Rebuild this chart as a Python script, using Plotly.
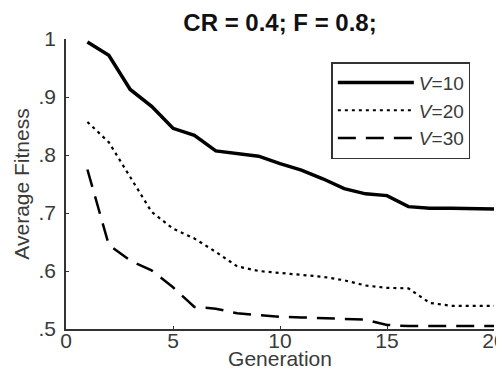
import plotly.graph_objects as go

generations = list(range(1, 21))
v10 = [0.995, 0.972, 0.913, 0.884, 0.846, 0.834, 0.807, 0.802, 0.798, 0.785,
       0.774, 0.759, 0.742, 0.733, 0.730, 0.711, 0.708, 0.708, 0.707, 0.707]
v20 = [0.857, 0.822, 0.762, 0.702, 0.673, 0.656, 0.633, 0.608, 0.600, 0.597,
       0.593, 0.590, 0.584, 0.575, 0.571, 0.570, 0.545, 0.540, 0.540, 0.540]
v30 = [0.775, 0.645, 0.618, 0.601, 0.572, 0.538, 0.535, 0.527, 0.524, 0.521,
       0.520, 0.519, 0.517, 0.516, 0.507, 0.505, 0.505, 0.505, 0.505, 0.505]
series_names = ["<i>V</i>=10", "<i>V</i>=20", "<i>V</i>=30"]
x_ticks = [0, 5, 10, 15, 20]
y_ticks = [0.5, 0.6, 0.7, 0.8, 0.9, 1.0]
y_ticktext = [".5", ".6", ".7", ".8", ".9", "1"]

FONT = "Liberation Sans, Arial, sans-serif"
GRAY = "#3a3a3a"
W, H = 496, 362

fig = go.Figure()
fig.add_trace(go.Scatter(x=generations, y=v10, mode="lines", name=series_names[0],
                         line=dict(color="black", width=3.5)))
fig.add_trace(go.Scatter(x=generations, y=v20, mode="lines", name=series_names[1],
                         line=dict(color="black", width=2.2, dash="3px,4px")))
fig.add_trace(go.Scatter(x=generations, y=v30, mode="lines", name=series_names[2],
                         line=dict(color="black", width=2.5, dash="18px,10px")))

fig.update_layout(
    width=W, height=H,
    margin=dict(l=58, r=10, t=31, b=41, autoexpand=False),
    paper_bgcolor="white", plot_bgcolor="white",
    font=dict(family=FONT, size=21, color=GRAY),
    title=dict(text="<b>CR = 0.4; F = 0.8;</b>", x=0.5, xref="paper",
               y=1 - 15 / H, yref="container", yanchor="middle", xanchor="center",
               font=dict(family=FONT, size=24, color="#111")),
    showlegend=True,
    legend=dict(x=0.62, y=0.92, xanchor="left", yanchor="top",
                bgcolor="white", bordercolor="#333", borderwidth=1.5,
                font=dict(family=FONT, size=19, color=GRAY),
                tracegroupgap=0, itemwidth=76),
    xaxis=dict(range=[0, 20], tickvals=x_ticks, ticks="inside", ticklen=3,
               tickcolor="#333", showline=True, linecolor="#333", linewidth=1.5,
               showgrid=False, zeroline=False, mirror=False, automargin=False,
               ticklabeloverflow="allow", ticklabelstandoff=-8,
               title=dict(text="Generation", standoff=4, font=dict(size=21, color=GRAY))),
    yaxis=dict(range=[0.5, 1.0], tickvals=y_ticks, ticktext=y_ticktext, ticks="inside",
               ticklen=3, tickcolor="#333", showline=True, linecolor="#333", linewidth=1.5,
               showgrid=False, zeroline=False, mirror=False, ticklabelstandoff=4,
               automargin=False,
               title=dict(text="Average Fitness", standoff=3, font=dict(size=21, color=GRAY))),
)

fig.write_html("out.html")
